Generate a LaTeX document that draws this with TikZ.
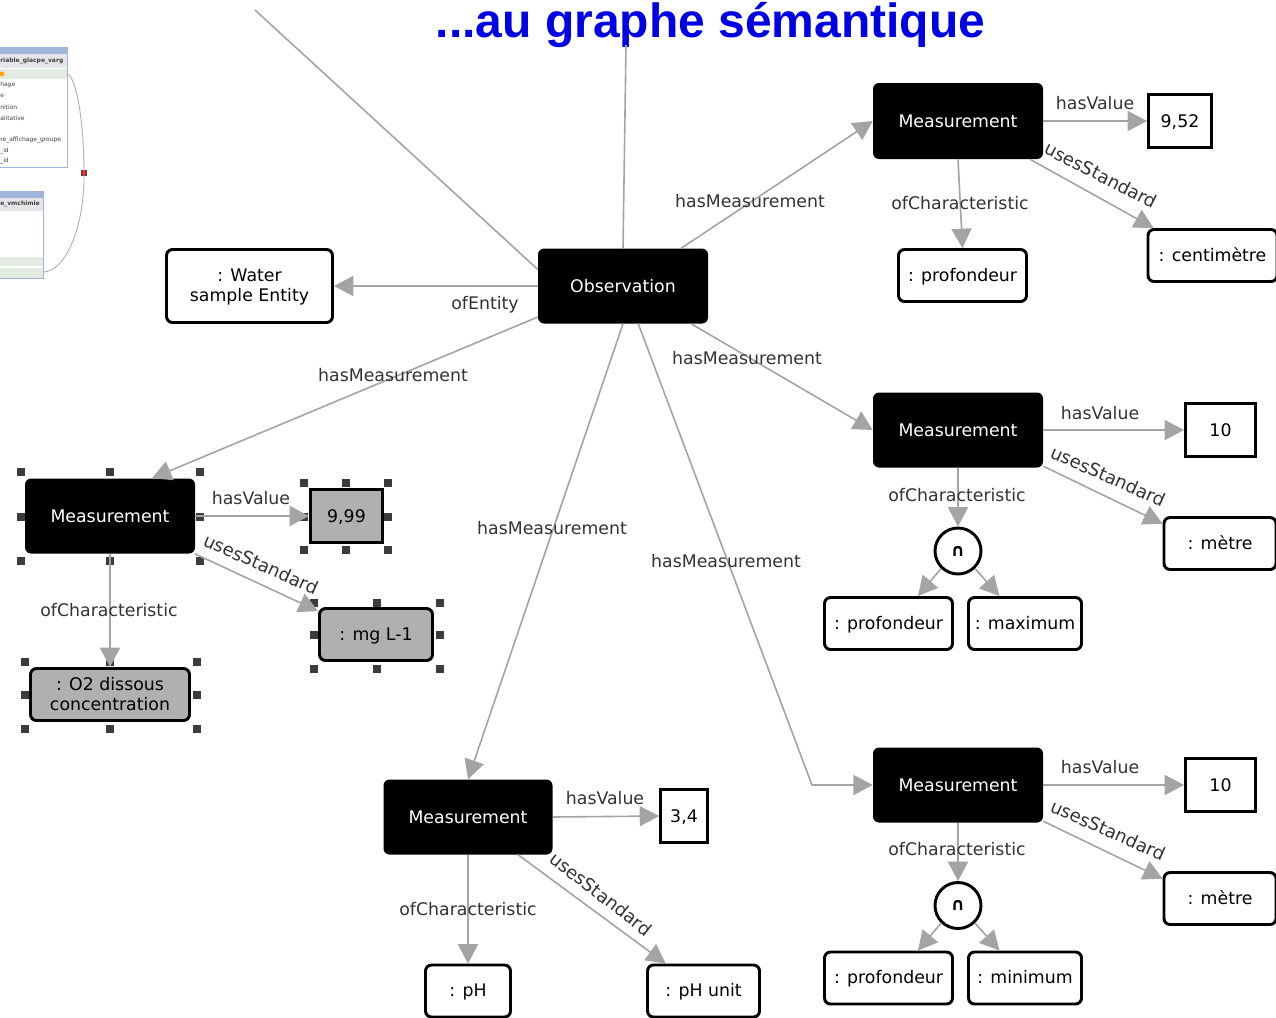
\documentclass[tikz,border=0pt]{standalone}
\usepackage{fontspec}
\setmainfont{DejaVu Sans}
\newfontfamily\titlefont{Liberation Sans}
\usetikzlibrary{arrows.meta}
\definecolor{edgegray}{HTML}{A4A4A4}
\definecolor{seltgray}{HTML}{B0B0B0}
\definecolor{labelgray}{HTML}{333333}
\definecolor{handlegray}{HTML}{3C3C3C}
\definecolor{tabblue}{HTML}{9FB4D6}
\definecolor{tabgreen}{HTML}{E3ECE0}
\definecolor{tabhead}{HTML}{E6E6EA}
\tikzset{
  wh/.style 2 args={minimum width=#1*0.75pt,minimum height=#2*0.75pt},
  txt/.style={font=\fontsize{13}{15}\selectfont,align=center,inner sep=0pt},
  oneline/.style={text height=12.5pt,text depth=2.5pt},
  blackbox/.style={txt,oneline,rectangle,rounded corners=4.5pt,fill=black,text=white},
  classbox/.style={txt,rectangle,rounded corners=4.5pt,draw=black,line width=2.2pt,fill=white,text=black},
  classone/.style={classbox,text height=11pt,text depth=2.5pt},
  valuebox/.style={txt,oneline,rectangle,draw=black,line width=2.2pt,fill=white,text=black},
  selected/.style={fill=seltgray},
  capnode/.style={txt,circle,draw=black,line width=2.2pt,fill=white,wh={46}{46},font=\fontsize{13}{15}\selectfont\bfseries},
  edgeline/.style={draw=edgegray,line width=1.2pt},
  arrowline/.style={edgeline,-{Triangle[length=14.5pt,width=15pt]}},
  lab/.style={txt,oneline,text=labelgray},
  slab/.style={lab,font=\fontsize{13.5}{15}\selectfont},
  handle/.style={fill=handlegray,draw=none,minimum size=6pt,inner sep=0pt,rectangle},
  tabtext/.style={inner sep=0pt,anchor=west,font=\fontsize{4.5}{5}\selectfont,text=black!75},
  tabtitle/.style={tabtext,font=\fontsize{4.5}{5}\selectfont\bfseries},
  tabbody/.style={draw=tabblue,line width=0.7pt,fill=white},
}
\begin{document}
\begin{tikzpicture}[x=0.75pt,y=-0.75pt]
\useasboundingbox (0,0) rectangle (1276,1017);
\clip (0,0) rectangle (1276,1017);
\fill[white] (0,0) rectangle (1276,1017);

% database thumbnail
\draw[tabbody] (-5,47) rectangle (67,167);
\fill[tabblue] (-5,47) rectangle (67,54);
\fill[tabhead] (-5,54) rectangle (66.5,68);
\fill[tabgreen] (-5,69) rectangle (66.5,79);
\draw[tabbody] (-5,191) rectangle (43,278);
\fill[tabblue] (-5,191) rectangle (43,198);
\fill[tabhead] (-5,198) rectangle (42.5,211);
\fill[tabgreen] (-5,257) rectangle (42.5,266);
\fill[tabgreen] (-5,268) rectangle (42.5,277.5);
\fill[orange!70!yellow] (2,74) circle (2.5);
\node[tabtitle] (t1) at (0,61) {riable\_glacpe\_varg};
\node[tabtext] (r1) at (0,85) {hage};
\node[tabtext] (r2) at (0,96) {e};
\node[tabtext] (r3) at (0,107) {nition};
\node[tabtext] (r4) at (0,118) {alitative};
\node[tabtext] (r5) at (0,140) {re\_affichage\_groupe};
\node[tabtext] (r6) at (0,151) {\_id};
\node[tabtext] (r7) at (0,161) {\_id};
\node[tabtitle] (t2) at (0,204) {e\_vmchimie};
\node[rectangle,fill=red,draw=black!70,line width=0.3pt,minimum size=3.8pt,inner sep=0pt] (rs) at (84,172.5) {};
\coordinate (tab1) at (67,74);
\coordinate (tab2) at (43,272);
\draw[black!30,line width=0.7pt] (tab1) .. controls (76,76) and (84,120) .. (rs.center) .. controls (85,225) and (66,272) .. (tab2);

% selection handles
\foreach \hx/\hy in {21/472,110/472,200/472,21/517,200/517,21/561,110/561,200/561,
  304/483,346/483,388/483,304/517,388/517,304/550,346/550,388/550,
  314/603,377/603,440/603,314/635,440/635,314/669,377/669,440/669,
  25/662,110/662,197/662,25/695,197/695,25/729,110/729,197/729}
  \node[handle] at (\hx,\hy) {};

% nodes
\node[blackbox,wh={170}{75}] (obs) at (623,286) {Observation};
\node[classbox,wh={166}{73}] (water) at (249.5,286) {\rule{0pt}{11.5pt}: Water\\sample Entity};

\node[blackbox,wh={170}{76}] (m1) at (958,121) {Measurement};
\node[valuebox,wh={63}{53}] (v1) at (1180,121) {9,52};
\node[classone,wh={129}{52}] (u1) at (1212.5,255.5) {: centimètre};
\node[classone,wh={128}{52}] (c1) at (962.5,275.5) {: profondeur};

\node[blackbox,wh={170}{75}] (m2) at (958,430) {Measurement};
\node[valuebox,wh={70}{53}] (v2) at (1220.5,430) {10};
\node[classone,wh={112}{52}] (u2) at (1220,543.5) {: mètre};
\node[capnode] (n2) at (958,551) {∩};
\node[classone,wh={128}{52}] (p2) at (888.5,623.5) {: profondeur};
\node[classone,wh={113}{52}] (q2) at (1025,623.5) {: maximum};

\node[blackbox,wh={170}{75}] (m3) at (958,785) {Measurement};
\node[valuebox,wh={70}{53}] (v3) at (1220.5,785) {10};
\node[classone,wh={112}{52}] (u3) at (1220,898.5) {: mètre};
\node[capnode] (n3) at (958,905.5) {∩};
\node[classone,wh={128}{52}] (p3) at (888.5,978) {: profondeur};
\node[classone,wh={113}{52}] (q3) at (1025,978) {: minimum};

\node[blackbox,wh={169}{75}] (m4) at (468,817) {Measurement};
\node[valuebox,wh={47}{53}] (v4) at (684,816) {3,4};
\node[classone,wh={85}{52}] (u4) at (468,991) {: pH};
\node[classone,wh={112}{52}] (w4) at (703.5,991) {: pH unit};

\node[blackbox,wh={170}{75}] (m0) at (110,516) {Measurement};
\node[valuebox,selected,wh={72}{53}] (v0) at (346.5,516) {9,99};
\node[classone,selected,wh={113}{52}] (u0) at (376,634.5) {: mg L-1};
\node[classbox,selected,wh={159}{52}] (c0) at (110,694.5) {: O2 dissous\\concentration};

% title
\node[inner sep=0pt,text=blue!90!black,font=\fontsize{36}{40}\selectfont\titlefont\bfseries] (title) at (710.5,25) {...au graphe sémantique};

% free ends
\coordinate (far) at (255,10);
\coordinate (up) at (626,45);
\coordinate (bend) at (812,785);

% connectors
\draw[edgeline] (obs.169) -- (far);
\draw[edgeline] (obs.north) -- (up);
\draw[arrowline] (obs.west) -- (water.east);
\draw[arrowline] (obs.33) -- (m1.west);
\draw[arrowline] (obs.331) -- (m2.west);
\draw[arrowline] (obs.292) -- (bend) -- (m3.west);
\draw[arrowline] (obs.south) -- (m4.north);
\draw[arrowline] (obs.200.6) -- (m0.42);

\draw[arrowline] (m1.east) -- (v1.west);
\draw[arrowline] (m1.332) -- (u1.155.8);
\draw[arrowline] (m1.south) -- (c1.north);

\draw[arrowline] (m2.east) -- (v2.west);
\draw[arrowline] (m2.337) -- (u2.161);
\draw[arrowline] (m2.south) -- (n2.north);
\draw[arrowline] (n2.226) -- (p2.43);
\draw[arrowline] (n2.314) -- (q2.133);

\draw[arrowline] (m3.east) -- (v3.west);
\draw[arrowline] (m3.337) -- (u3.161);
\draw[arrowline] (m3.south) -- (n3.north);
\draw[arrowline] (n3.226) -- (p3.43);
\draw[arrowline] (n3.314) -- (q3.133);

\draw[arrowline] (m4.east) -- (v4.west);
\draw[arrowline] (m4.323.5) -- (w4.144);
\draw[arrowline] (m4.south) -- (u4.north);

\draw[arrowline] (m0.east) -- (v0.west);
\draw[arrowline] (m0.336.5) -- (u0.158.5);
\draw[arrowline] (m0.south) -- (c0.north);

% labels
\node[lab] (l1) at (485,303) {ofEntity};
\node[lab] (l2) at (750,201) {hasMeasurement};
\node[lab] (l3) at (747,358) {hasMeasurement};
\node[lab] (l4) at (726,561) {hasMeasurement};
\node[lab] (l5) at (552,528) {hasMeasurement};
\node[lab] (l6) at (393,375) {hasMeasurement};

\node[lab] (a1) at (1095,103) {hasValue};
\node[lab] (a2) at (1100,413) {hasValue};
\node[lab] (a3) at (1100,767) {hasValue};
\node[lab] (a4) at (605,798) {hasValue};
\node[lab] (a0) at (251,498) {hasValue};

\node[lab] (b1) at (960,203) {ofCharacteristic};
\node[lab] (b2) at (957,495) {ofCharacteristic};
\node[lab] (b3) at (957,849) {ofCharacteristic};
\node[lab] (b4) at (468,909) {ofCharacteristic};
\node[lab] (b0) at (109,610) {ofCharacteristic};

\node[slab,rotate=-27] (s1) at (1101,175) {usesStandard};
\node[slab,rotate=-24] (s2) at (1108,476) {usesStandard};
\node[slab,rotate=-24] (s3) at (1108,830) {usesStandard};
\node[slab,rotate=-38] (s4) at (601,894) {usesStandard};
\node[slab,rotate=-24] (s0) at (261,564) {usesStandard};
\end{tikzpicture}
\end{document}
